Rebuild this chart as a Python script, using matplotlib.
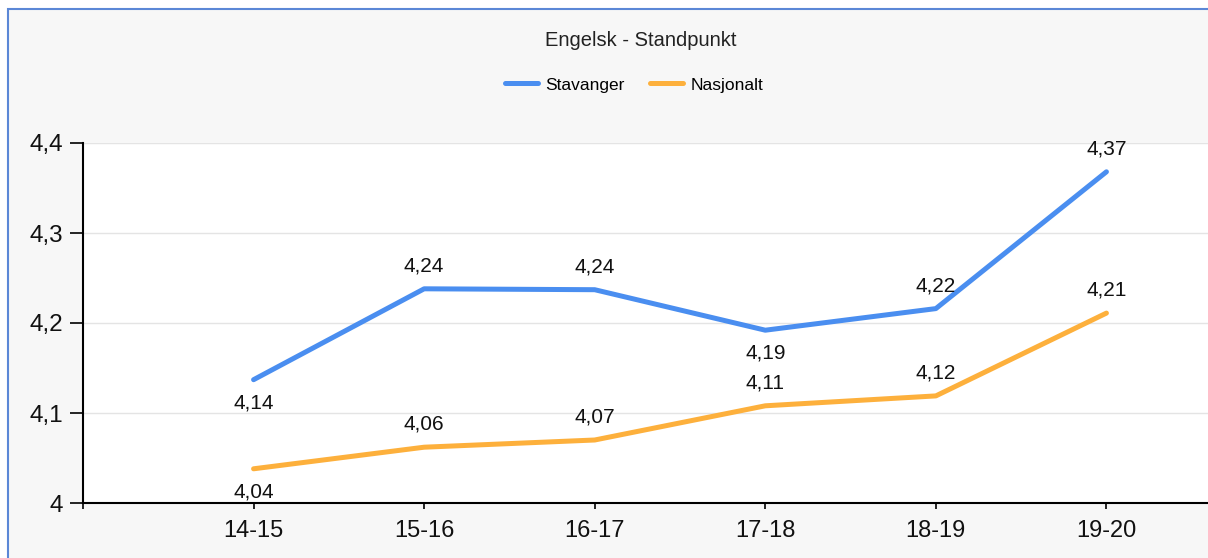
import matplotlib
matplotlib.use("Agg")
import matplotlib.pyplot as plt
from matplotlib.patches import Rectangle
from matplotlib.ticker import FuncFormatter

# --- data ---
aar = ["14-15", "15-16", "16-17", "17-18", "18-19", "19-20"]
stavanger = [4.137, 4.238, 4.237, 4.192, 4.216, 4.368]
nasjonalt = [4.038, 4.062, 4.070, 4.108, 4.119, 4.211]
# label above (1) or below (-1) the point
stavanger_pos = [-1, 1, 1, -1, 1, 1]
nasjonalt_pos = [-1, 1, 1, 1, 1, 1]
y_ticks = [4.0, 4.1, 4.2, 4.3, 4.4]

BLUE = "#4a8ef0"
ORANGE = "#fdb03c"
BG = "#f7f7f7"

plt.rcParams['font.family'] = ['Liberation Sans', 'DejaVu Sans']

W, H = 1208, 558
fig = plt.figure(figsize=(W / 100, H / 100), dpi=100)
fig.patch.set_facecolor("white")

# grey chart background with blue frame (top + left visible)
fig.patches.append(Rectangle((8 / W, -0.2), 1.2, 1 - 9 / H + 0.2,
                             transform=fig.transFigure, facecolor=BG,
                             edgecolor="#5b87d6", linewidth=1.5, zorder=-10))

x = list(range(1, len(aar) + 1))
ax = fig.add_axes([83 / W, (H - 503) / H, 1194 / W, 360 / H])
ax.set_facecolor("white")
ax.plot(x, stavanger, color=BLUE, lw=3.6, label="Stavanger", solid_capstyle="round")
ax.plot(x, nasjonalt, color=ORANGE, lw=3.6, label="Nasjonalt", solid_capstyle="round")

def fmt(v):
    return f"{v:.2f}".replace(".", ",")

for vals, pos in [(stavanger, stavanger_pos), (nasjonalt, nasjonalt_pos)]:
    for xi, v, p in zip(x, vals, pos):
        ax.annotate(fmt(v), (xi, v), xytext=(0, 16.5 * p), textcoords="offset points",
                    ha="center", va="center", fontsize=15, color="#111111")

ax.set_xlim(0, 7)
ax.set_ylim(4.0, 4.4)
ax.set_xticks([0] + x)
ax.set_xticklabels([""] + aar, fontsize=17)
ax.set_yticks(y_ticks)
ax.yaxis.set_major_formatter(FuncFormatter(lambda v, _: f"{v:g}".replace(".", ",")))
ax.tick_params(axis="y", labelsize=17.5, length=9.5, width=1.2, direction="out", pad=5)
ax.tick_params(axis="x", length=4.5, width=1.2, direction="out", pad=8)
for lbl in ax.get_xticklabels() + ax.get_yticklabels():
    lbl.set_color("#111111")

ax.grid(axis="y", color="#e4e4e4", lw=1)
ax.set_axisbelow(True)
for s in ["top", "right"]:
    ax.spines[s].set_visible(False)
ax.spines["left"].set_linewidth(1.5)
ax.spines["bottom"].set_linewidth(1.5)

fig.text(641 / W, 1 - 40 / H, "Engelsk - Standpunkt", ha="center", va="center",
         fontsize=14.5, color="#222222")
fig.legend(loc="center", bbox_to_anchor=(634 / W, 1 - 85 / H), ncol=2, frameon=False,
           fontsize=12.5, handlelength=1.9, columnspacing=1.5, handletextpad=0.4)

plt.savefig("out.png", dpi=100, facecolor=fig.get_facecolor())
